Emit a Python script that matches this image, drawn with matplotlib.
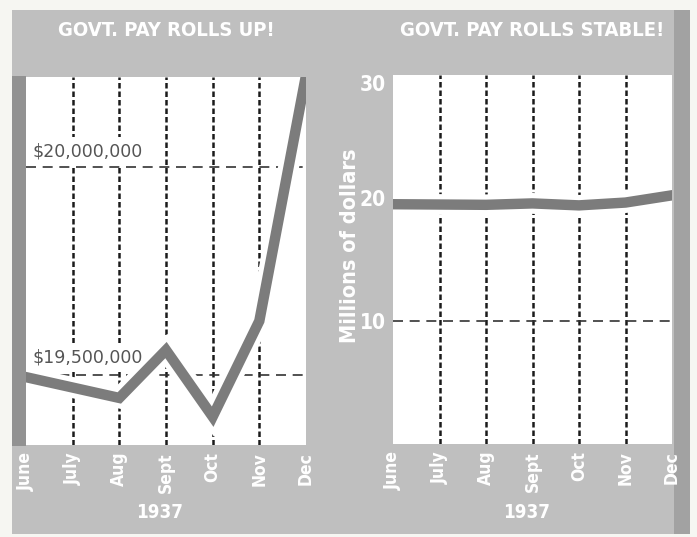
import numpy as np
import matplotlib
matplotlib.use("Agg")
from matplotlib import pyplot as plt
from matplotlib.patches import Rectangle
import matplotlib.patheffects as pe

# monthly pay rolls, 1937 (millions of dollars)
months = ['June', 'July', 'Aug', 'Sept', 'Oct', 'Nov', 'Dec']
payroll = [19.495, 19.47, 19.445, 19.56, 19.40, 19.63, 20.22]
titles = ['GOVT. PAY ROLLS UP!', 'GOVT. PAY ROLLS STABLE!']
left_marks = [20.0, 19.5]
left_mark_labels = ['$20,000,000', '$19,500,000']
right_ticks = [10, 20, 30]

W, H = 697, 537
panel = '#bfbfbf'
line_col = '#7c7c7c'
narrow = ['Liberation Sans Narrow', 'DejaVu Sans']
font = dict(family=narrow, fontstretch='condensed', fontweight='bold')

fig = plt.figure(figsize=(W / 100, H / 100), dpi=100)
fig.patch.set_facecolor('#f6f6f2')

def fx(x): return x / W
def fy(y): return 1 - y / H

# gray backing sheet and darker edge strips
for (x0, y0, w, h, c) in [(12, 534, 678, 524, panel), (12, 446, 14, 370, '#929292'),
                          (674, 534, 16, 524, '#a2a2a2')]:
    fig.patches.append(Rectangle((fx(x0), fy(y0)), fx(w), h / H, transform=fig.transFigure,
                                 facecolor=c, edgecolor='none', zorder=-5))

x = np.arange(len(months))
stroke = [pe.Stroke(linewidth=15, foreground='white'), pe.Normal()]

def base(ax):
    ax.set_facecolor('white')
    for s in ax.spines.values():
        s.set_visible(False)
    ax.set_xlim(0, 6)
    ax.set_xticks(x)
    ax.set_xticklabels(months, rotation=90, color='white', fontsize=12.5, **font)
    ax.tick_params(axis='both', length=0, pad=5)
    for m in x[1:-1]:
        ax.axvline(m, color='#1a1a1a', lw=1.8, ls=(0, (2.2, 1.2)), zorder=1)

# left: truncated axis
ax1 = fig.add_axes([fx(26), fy(445), fx(280), 368 / H])
base(ax1)
ax1.set_ylim(19.332, 20.216)
ax1.set_yticks([])
for v in left_marks:
    ax1.axhline(v, color='#333333', lw=1.2, ls=(0, (6, 4)), zorder=1)
ax1.plot(x, payroll, color=line_col, lw=7.5, solid_joinstyle='miter', path_effects=stroke, zorder=3)
for v, lab in zip([20.037, 19.542], left_mark_labels):
    ax1.text(0.14, v, lab, color='#555555', fontsize=12.5, zorder=2, va='center', family=narrow,
             bbox=dict(facecolor='white', edgecolor='none', pad=4))

# right: full axis from zero
ax2 = fig.add_axes([fx(393), fy(444), fx(279), 369 / H])
base(ax2)
ax2.set_ylim(0, 29.6)
ax2.set_yticks(right_ticks)
ax2.set_yticklabels([str(t) for t in right_ticks], color='white', fontsize=15, **font)
ax2.get_yticklabels()[-1].set_verticalalignment('top')
for v in right_ticks[:2]:
    ax2.axhline(v, color='#333333', lw=1.2, ls=(0, (6, 4)), zorder=1)
ax2.plot(x, payroll, color=line_col, lw=7.5, path_effects=stroke, zorder=3)
fig.text(fx(350), fy(246), 'Millions of dollars', rotation=90, ha='center', va='center',
         color='white', fontsize=15.5, **font)

for ax, t in zip([ax1, ax2], titles):
    cx = (ax.get_position().x0 + ax.get_position().x1) / 2
    fig.text(cx, fy(30), t, ha='center', va='center', color='white', fontsize=14.5, **font)
    fig.text(cx - fx(6), fy(512), '1937', ha='center', va='center', color='white', fontsize=13.5, **font)

fig.savefig('out.png', dpi=100, facecolor=fig.get_facecolor())
